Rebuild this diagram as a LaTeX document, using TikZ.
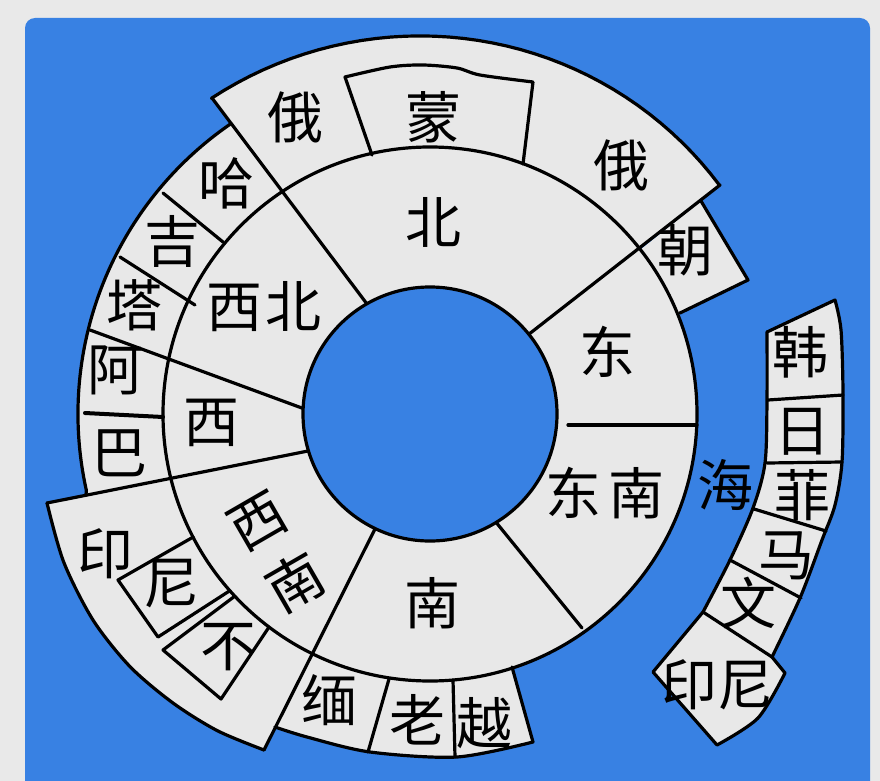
\documentclass[tikz,border=0pt]{standalone}
\usepackage{fontspec}
\newfontfamily\cjk{Noto Sans CJK SC}
\definecolor{bgblue}{RGB}{56,129,227}
\definecolor{cellgrey}{RGB}{232,232,232}
\definecolor{pagegrey}{RGB}{233,233,233}
\begin{document}
\begin{tikzpicture}[x=1pt,y=-1pt,
  edge/.style={draw=black,line width=3.2pt,line join=round,line cap=round},
  cell/.style={fill=cellgrey},
  lab/.style={font=\cjk\fontsize{56}{56}\selectfont,inner sep=0pt,text=black},
]
\useasboundingbox (0,0) rectangle (880,781);
\clip (0,0) rectangle (880,781);
\fill[pagegrey] (0,0) rectangle (880,781);
\fill[bgblue,rounded corners=10pt] (25,830) -- (25,18) -- (870,18) -- (870,830) -- cycle;

\coordinate (C) at (430,414);

% ---------- fills of the outer blocks ----------
\fill[cell] (C) -- (284,193) -- (212,98) -- plot[domain=235.3:321.6,samples=40,variable=\t] ({430+(384-0.1738*(\t-235.3))*cos(\t)},{414+(384-0.1738*(\t-235.3))*sin(\t)}) -- (720,185) -- cycle;
\fill[cell] (C) -- (640,250) -- (701,201) -- (748,280) -- (680,313) -- cycle;
\fill[cell] (C) -- (284,193) -- (230.6,123.9) arc[start angle=235.5,end angle=167.5,radius=352] -- (86,495) -- (168,479) -- cycle;
\fill[cell] (C) -- (168,479) -- (47,503) -- plot[smooth] coordinates {(47,503) (63.8,562.3) (93,620) (130,666.6) (173,703) (217.4,730.7) (264,750)} -- (310,657) -- cycle;
\fill[cell] (C) -- (310,657) -- (275,727) -- plot[smooth] coordinates {(275,727) (307,737) (370,752) (457,757) (533,742)} -- (512,667) -- cycle;
\fill[cell] (C) circle[radius=267];

% ---------- right strip ----------
\path[cell,edge] (767,332) -- (835,300) -- plot[smooth] coordinates {(835,300) (841,330) (843,393) (842,462) (835,505) (822,540) (800,598) (772,657)} -- (785,673) -- plot[smooth] coordinates {(785,673) (758,718) (717,745)} -- (653,672) -- (703,612) -- plot[smooth] coordinates {(703,612) (730,560) (753,508) (765,463) (767,400) (767,332)} -- cycle;
\draw[edge] (768,400) -- (843,395);
\draw[edge] (767,463) -- (842,462);
\draw[edge] (754,509) -- (826,531);
\draw[edge] (730,560) -- (801,598);
\draw[edge] (703,612) -- (772,657);

% ---------- outlines ----------
\draw[edge] (C) circle[radius=267];
% dividers
\draw[edge] (373,312) -- (212,98);
\draw[edge] (524,338) -- (720,185);
\draw[edge] (568,425) -- (697,425);
\draw[edge] (495,521) -- (582,628);
\draw[edge] (376,527) -- (264,750);
\draw[edge] (313,450) -- (47,503);
\draw[edge] (310,411) -- (90,330);
% top block
\draw[edge] (212,98) -- plot[domain=235.3:321.6,samples=40,variable=\t] ({430+(384-0.1738*(\t-235.3))*cos(\t)},{414+(384-0.1738*(\t-235.3))*sin(\t)}) -- (720,185);
\draw[edge] (372,155) -- (345,77) -- plot[smooth] coordinates {(345,77) (390,67) (423,65) (457,68) (480,75) (533,82)} -- (523,164);
% chao
\draw[edge] (701,201) -- (748,280) -- (680,313);
% left block
\draw[edge] (230.6,123.9) arc[start angle=235.5,end angle=167.5,radius=352] -- (86,495);
\draw[edge] (163,193) -- (223,242);
\draw[edge] (120,257) -- (195,305);
\draw[edge,line width=4pt] (85,413) -- (163,417);
% yin block
\draw[edge] (47,503) -- plot[smooth] coordinates {(47,503) (63.8,562.3) (93,620) (130,666.6) (173,703) (217.4,730.7) (264,750)};
\draw[edge] (193.1,537.1) -- (118,580) -- (158,637) -- (229.8,590.7);
\draw[edge] (234.8,596.2) -- (163,650) -- (221,699) -- (269,627);
% south block
\draw[edge] plot[smooth] coordinates {(275,727) (307,737) (370,752) (457,757) (533,742)} -- (512,667);
\draw[edge] (389,679) -- (368,752);
\draw[edge] (453,680) -- (455,757);

% ---------- inner hole ----------
\path[fill=bgblue,edge] (C) circle[radius=127];

% ---------- labels ----------
\node[lab] (bei) at (433,222) {北};
\node[lab] (meng) at (433,117) {蒙};
\node[lab] (e1) at (295,117) {俄};
\node[lab] (e2) at (621,165) {俄};
\node[lab] (chao) at (685,250) {朝};
\node[lab] (ha) at (226,183) {哈};
\node[lab] (ji) at (172,241) {吉};
\node[lab] (ta) at (134,305) {塔};
\node[lab] (a) at (115,370) {阿};
\node[lab] (ba) at (119,453) {巴};
\node[lab] (xibei) at (264,307) {西\hspace{4pt}北};
\node[lab] (xi) at (211,423) {西};
\node[lab] (dong) at (607,352) {东};
\node[lab] (dongnan) at (605,493) {东\hspace{8pt}南};
\node[lab] (nan) at (432,603) {南};
\node[lab,rotate=30] (xinan1) at (258,522) {西};
\node[lab,rotate=30] (xinan2) at (295,582) {南};
\node[lab] (yin1) at (105,554) {印};
\node[lab] (ni1) at (171,584) {尼};
\node[lab] (bu) at (228,647) {不};
\node[lab] (mian) at (329,700) {缅};
\node[lab] (lao) at (417,720) {老};
\node[lab] (yue) at (484,723) {越};
\node[lab] (han) at (800,352) {韩};
\node[lab] (ri) at (802,432) {日};
\node[lab] (fei) at (802,495) {菲};
\node[lab] (ma) at (786,556) {马};
\node[lab] (wen) at (748,603) {文};
\node[lab] (yinni) at (717,685) {印尼};
\node[lab] (hai) at (725,485) {海};
\end{tikzpicture}
\end{document}
